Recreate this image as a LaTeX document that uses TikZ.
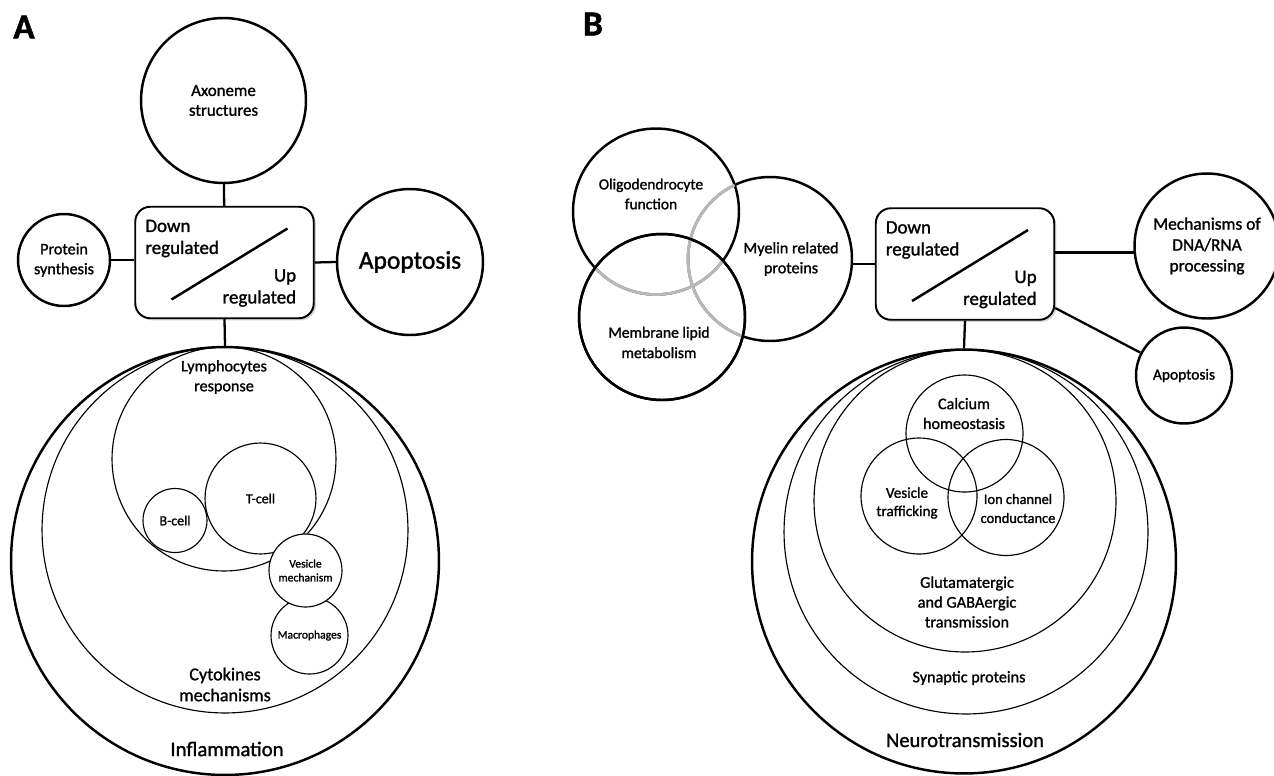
\documentclass[tikz,border=0pt]{standalone}
\usepackage{fontspec}
\setmainfont{Carlito}[RawFeature={embolden=1.3}]
\usetikzlibrary{shapes.geometric, calc, shadows}

\tikzset{
  bub/.style={circle, draw, line width=1.4pt, inner sep=0pt, align=center},
  subbub/.style={circle, draw, line width=0.65pt, inner sep=0pt, align=center},
  regbox/.style={rectangle, draw, line width=1.1pt, rounded corners=0.3cm, fill=white,
    minimum width=3.57cm, minimum height=2.23cm,
    drop shadow={shadow xshift=1.2pt, shadow yshift=-1.2pt, opacity=0.35}},
  link/.style={line width=1.3pt},
  lbl/.style={align=center, inner sep=0pt},
}

\begin{document}
\begin{tikzpicture}[x=0.02cm, y=-0.02cm, font=\fontsize{9.2}{11.3}\selectfont]
		\useasboundingbox (0,0) rectangle (1274,775);
		%
		\node[font=\fontsize{20}{24}\bfseries\selectfont] (labA) at (24,27) {A};
		\node[font=\fontsize{20}{24}\bfseries\selectfont] (labB) at (593,24) {B};
		%
		% panel A
		\node[bub, minimum size=3.3cm, font=\fontsize{9.6}{11.3}\selectfont] (axo) at (223.5,100.5) {Axoneme\\structures};
		\node[bub, minimum size=1.84cm] (prot) at (64,260) {Protein\\synthesis};
		\node[bub, minimum size=2.92cm, font=\fontsize{14.5}{17}\selectfont] (apoA) at (410,262) {Apoptosis};
		\node[regbox] (boxA) at (224.5,262.5) {};
		\node[bub, minimum size=8.56cm] (infl) at (225,561) {};
		\node[subbub, minimum size=7.32cm] (cyto) at (225,530) {};
		\node[subbub, minimum size=4.48cm] (lymph) at (224,459) {};
		\node[subbub, minimum size=2.22cm, font=\fontsize{7.9}{9}\selectfont] (tcell) at (260.5,498.5) {T-cell};
		\node[subbub, minimum size=1.28cm, font=\fontsize{7.9}{9}\selectfont] (bcell) at (175,520.5) {B-cell};
		\node[subbub, minimum size=1.54cm, font=\fontsize{6.6}{7.9}\selectfont] (macro) at (309.5,635.5) {Macrophages};
		\node[subbub, fill=white, minimum size=1.46cm, font=\fontsize{6.6}{7.9}\selectfont] (vesi) at (305.5,570.5) {Vesicle\\mechanism};
		\node[lbl] (lymph-txt) at (224,377) {Lymphocytes\\response};
		\node[lbl, font=\fontsize{10.3}{11.9}\selectfont] (cyto-txt) at (225,684.5) {Cytokines\\mechanisms};
		\node[lbl, font=\fontsize{11.8}{14}\selectfont] (infl-txt) at (227,749) {Inflammation};
		%
		\draw[link] (axo) -- (boxA);
		\draw[link] (prot.east) -- (prot.east -| boxA.west);
		\draw[link] (boxA.east) -- (apoA.west);
		\draw[link] (boxA.south) -- (infl.north);
		%
		% panel B
		\node[bub, minimum size=3.28cm] (myel) at (770,259) {};
		\node[bub, minimum size=3.32cm] (oligo) at (656,211.5) {};
		\node[bub, minimum size=3.32cm] (memb) at (662,317) {};
		\begin{scope}
			\clip (oligo.center) circle[radius=1.66cm];
			\draw[gray!55, line width=1.6pt] (myel.center) circle[radius=1.64cm];
		\end{scope}
		\begin{scope}
			\clip (memb.center) circle[radius=1.66cm];
			\draw[gray!55, line width=1.6pt] (myel.center) circle[radius=1.64cm];
			\draw[gray!55, line width=1.6pt] (oligo.center) circle[radius=1.66cm];
		\end{scope}
		\draw[line width=1.4pt] (memb.center) circle[radius=1.66cm];
		\node[lbl, font=\fontsize{8.8}{11.3}\selectfont] (oligo-txt) at (651,194) {Oligodendrocyte\\function};
		\node[lbl] (myel-txt) at (791,259) {Myelin related\\proteins};
		\node[lbl, font=\fontsize{8.9}{11.6}\selectfont] (memb-txt) at (659,342.5) {Membrane lipid\\metabolism};
		%
		\node[regbox] (boxB) at (965,264) {};
		\node[bub, minimum size=2.9cm, font=\fontsize{9.9}{11.9}\selectfont] (dna) at (1207,246) {Mechanisms of\\DNA/RNA\\processing};
		\node[bub, minimum size=1.92cm, font=\fontsize{8.8}{10}\selectfont] (apoB) at (1184,375.5) {Apoptosis};
		\node[bub, minimum size=8.48cm] (neuro) at (964,561.5) {};
		\node[subbub, minimum size=7.28cm] (syn) at (966,532) {};
		\node[subbub, minimum size=6.04cm] (glu) at (965,501) {};
		\node[subbub, minimum size=2.34cm] (calc) at (964.5,433.5) {};
		\node[subbub, minimum size=2.32cm] (vtraf) at (919,496) {};
		\node[subbub, minimum size=2.32cm] (ion) at (1006,497.5) {};
		\node[lbl] (calc-txt) at (964,413.5) {Calcium\\homeostasis};
		\node[lbl, font=\fontsize{8.6}{10.4}\selectfont] (vtraf-txt) at (907,503) {Vesicle\\trafficking};
		\node[lbl, font=\fontsize{8.2}{10.8}\selectfont] (ion-txt) at (1018,508.5) {Ion channel\\conductance};
		\node[lbl, font=\fontsize{9.3}{11.3}\selectfont] (glu-txt) at (967,602) {Glutamatergic\\and GABAergic\\transmission};
		\node[lbl] (syn-txt) at (969,678) {Synaptic proteins};
		\node[lbl, font=\fontsize{11.7}{14}\selectfont] (neuro-txt) at (965,740) {Neurotransmission};
		%
		\draw[link] (boxB.west) -- (boxB.west -| myel.east);
		\draw[link] (dna.185) -- (dna.185 -| boxB.east);
		\draw[link] (boxB.-26) -- (apoB);
		\draw[link] (boxB.south) -- (neuro.north);
		%
		% box contents
		\foreach \b in {boxA, boxB}{
			\node[lbl, anchor=west, align=left, font=\fontsize{10.8}{12.5}\selectfont] (\b-down) at ($(\b.center)+(-79.5,-24)$) {Down\\regulated};
			\node[lbl, anchor=east, align=right, font=\fontsize{10.8}{12.5}\selectfont] (\b-up) at ($(\b.center)+(72,25.5)$) {Up\\regulated};
			\draw[line width=1.4pt] ($(\b.center)+(-53,37)$) -- ($(\b.center)+(63,-34)$);
		}
	\end{tikzpicture}
\end{document}
